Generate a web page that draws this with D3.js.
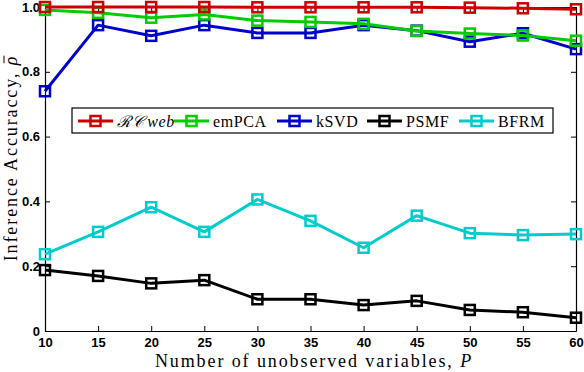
<!DOCTYPE html>
<html>
<head>
<meta charset="utf-8">
<script src="https://cdn.jsdelivr.net/npm/d3@7"></script>
<style>
  body { margin: 0; background: #fff; }
  svg { display: block; }
</style>
</head>
<body>
<svg id="chart" width="584" height="372"></svg>
<script>
// ── data ─────────────────────────────────────────
const pValues   = [10, 15, 20, 25, 30, 35, 40, 45, 50, 55, 60];
const rcweb     = [1.0, 1.0, 1.0, 1.0, 0.999, 0.999, 0.999, 0.999, 0.998, 0.996, 0.993];
const empca     = [0.991, 0.982, 0.967, 0.977, 0.958, 0.954, 0.948, 0.926, 0.918, 0.912, 0.896];
const ksvd      = [0.74, 0.944, 0.911, 0.944, 0.92, 0.92, 0.944, 0.927, 0.893, 0.919, 0.87];
const psmf      = [0.188, 0.170, 0.147, 0.157, 0.098, 0.098, 0.080, 0.093, 0.065, 0.058, 0.041];
const bfrm      = [0.237, 0.306, 0.382, 0.306, 0.406, 0.340, 0.257, 0.356, 0.302, 0.296, 0.299];
const yTicks    = [0, 0.2, 0.4, 0.6, 0.8, 1.0];

const series = [
  { name: 'RCweb', values: rcweb, color: '#cc0000' },
  { name: 'emPCA', values: empca, color: '#00cc00' },
  { name: 'kSVD',  values: ksvd,  color: '#0000cc' },
  { name: 'PSMF',  values: psmf,  color: '#000000' },
  { name: 'BFRM',  values: bfrm,  color: '#00cccc' }
];

// ── layout ───────────────────────────────────────
const margin = { left: 45, right: 8, top: 7, bottom: 41 };
const width  = 584, height = 372;
const svg = d3.select('#chart');

const x = d3.scaleLinear().domain([10, 60]).range([margin.left, width - margin.right]);
const y = d3.scaleLinear().domain([0, 1]).range([height - margin.bottom, margin.top]);

const tickFont = 'bold 13px "Liberation Sans", Arial, sans-serif';
const tickLen  = 5;

// axes: ticks drawn inward on all four sides
const xAxisB = d3.axisBottom(x).tickValues(pValues).tickSizeInner(-tickLen).tickSizeOuter(0).tickPadding(7);
const xAxisT = d3.axisTop(x).tickValues(pValues).tickSizeInner(-tickLen).tickSizeOuter(0).tickFormat('');
const yAxisL = d3.axisLeft(y).tickValues(yTicks).tickSizeInner(-tickLen).tickSizeOuter(0).tickPadding(5)
  .tickFormat(d => d === 0 ? '0' : d3.format('.1f')(d));
const yAxisR = d3.axisRight(y).tickValues(yTicks).tickSizeInner(-tickLen).tickSizeOuter(0).tickFormat('');

function styleAxis(g) {
  g.select('.domain').attr('stroke', '#000').attr('stroke-width', 1.2);
  g.selectAll('.tick line').attr('stroke', '#000');
  g.selectAll('.tick text').style('font', tickFont).attr('fill', '#000');
}

svg.append('g').attr('transform', `translate(0,${y(0)})`).call(xAxisB).call(styleAxis);
svg.append('g').attr('transform', `translate(0,${y(1)})`).call(xAxisT).call(styleAxis);
svg.append('g').attr('transform', `translate(${x(10)},0)`).call(yAxisL).call(styleAxis);
svg.append('g').attr('transform', `translate(${x(60)},0)`).call(yAxisR).call(styleAxis);

// ── series ───────────────────────────────────────
const line = d3.line().x((d, i) => x(pValues[i])).y(d => y(d));
const mk = 10;

// draw in reverse so RCweb sits on top
series.slice().reverse().forEach(s => {
  const g = svg.append('g');
  g.append('path')
    .datum(s.values)
    .attr('d', line)
    .attr('fill', 'none')
    .attr('stroke', s.color)
    .attr('stroke-width', 3)
    .attr('stroke-linejoin', 'round');
  g.selectAll('rect')
    .data(s.values)
    .enter()
    .append('rect')
    .attr('x', (d, i) => x(pValues[i]) - mk / 2)
    .attr('y', d => y(d) - mk / 2)
    .attr('width', mk)
    .attr('height', mk)
    .attr('fill', 'none')
    .attr('stroke', s.color)
    .attr('stroke-width', 2.5);
});

// ── legend ───────────────────────────────────────
const legendBox = { x: 72, y: 108, w: 481, h: 25 };
const legendX   = [78, 174, 277, 367, 459];
const lg = svg.append('g');
lg.append('rect')
  .attr('x', legendBox.x).attr('y', legendBox.y)
  .attr('width', legendBox.w).attr('height', legendBox.h)
  .attr('fill', '#fff').attr('stroke', '#000').attr('stroke-width', 1.2);

const ly = legendBox.y + legendBox.h / 2 + 0.5;
series.forEach((s, i) => {
  const lx = legendX[i];
  lg.append('line')
    .attr('x1', lx).attr('x2', lx + 35).attr('y1', ly).attr('y2', ly)
    .attr('stroke', s.color).attr('stroke-width', 3);
  lg.append('rect')
    .attr('x', lx + 17.5 - mk / 2).attr('y', ly - mk / 2)
    .attr('width', mk).attr('height', mk)
    .attr('fill', 'none').attr('stroke', s.color).attr('stroke-width', 2.5);
  const t = lg.append('text')
    .attr('x', lx + 39).attr('y', ly + 5.5)
    .style('font', '16px "Liberation Serif", "DejaVu Serif", serif')
    .style('letter-spacing', '0.6px')
    .attr('fill', '#000');
  if (s.name === 'RCweb') {
    t.append('tspan').style('font-style', 'italic').text('ℛ𝒞');
    t.append('tspan').style('font-style', 'italic').attr('dx', 3).text('web');
  } else {
    t.text(s.name);
  }
});

// ── axis titles ──────────────────────────────────
const labelFont = '18px "Liberation Serif", "DejaVu Serif", serif';
const xl = svg.append('text')
  .attr('x', 314).attr('y', 367)
  .attr('text-anchor', 'middle')
  .style('font', labelFont)
  .style('letter-spacing', '1.9px');
xl.append('tspan').text('Number of unobserved variables, ');
xl.append('tspan').style('font-style', 'italic').text('P');

const ylg = svg.append('g').attr('transform', 'translate(17,158) rotate(-90)');
const yl = ylg.append('text')
  .attr('text-anchor', 'middle')
  .style('font', labelFont)
  .style('letter-spacing', '1.9px');
yl.append('tspan').text('Inference Accuraccy, ');
yl.append('tspan').style('font-style', 'italic').text('ρ');

// bar over rho
const node = yl.node();
const last = node.getNumberOfChars() - 1;
const ext  = node.getExtentOfChar(last);
ylg.append('line')
  .attr('x1', ext.x + 2).attr('x2', ext.x + ext.width - 1)
  .attr('y1', ext.y + 3).attr('y2', ext.y + 3)
  .attr('stroke', '#000').attr('stroke-width', 1);
</script>
</body>
</html>
